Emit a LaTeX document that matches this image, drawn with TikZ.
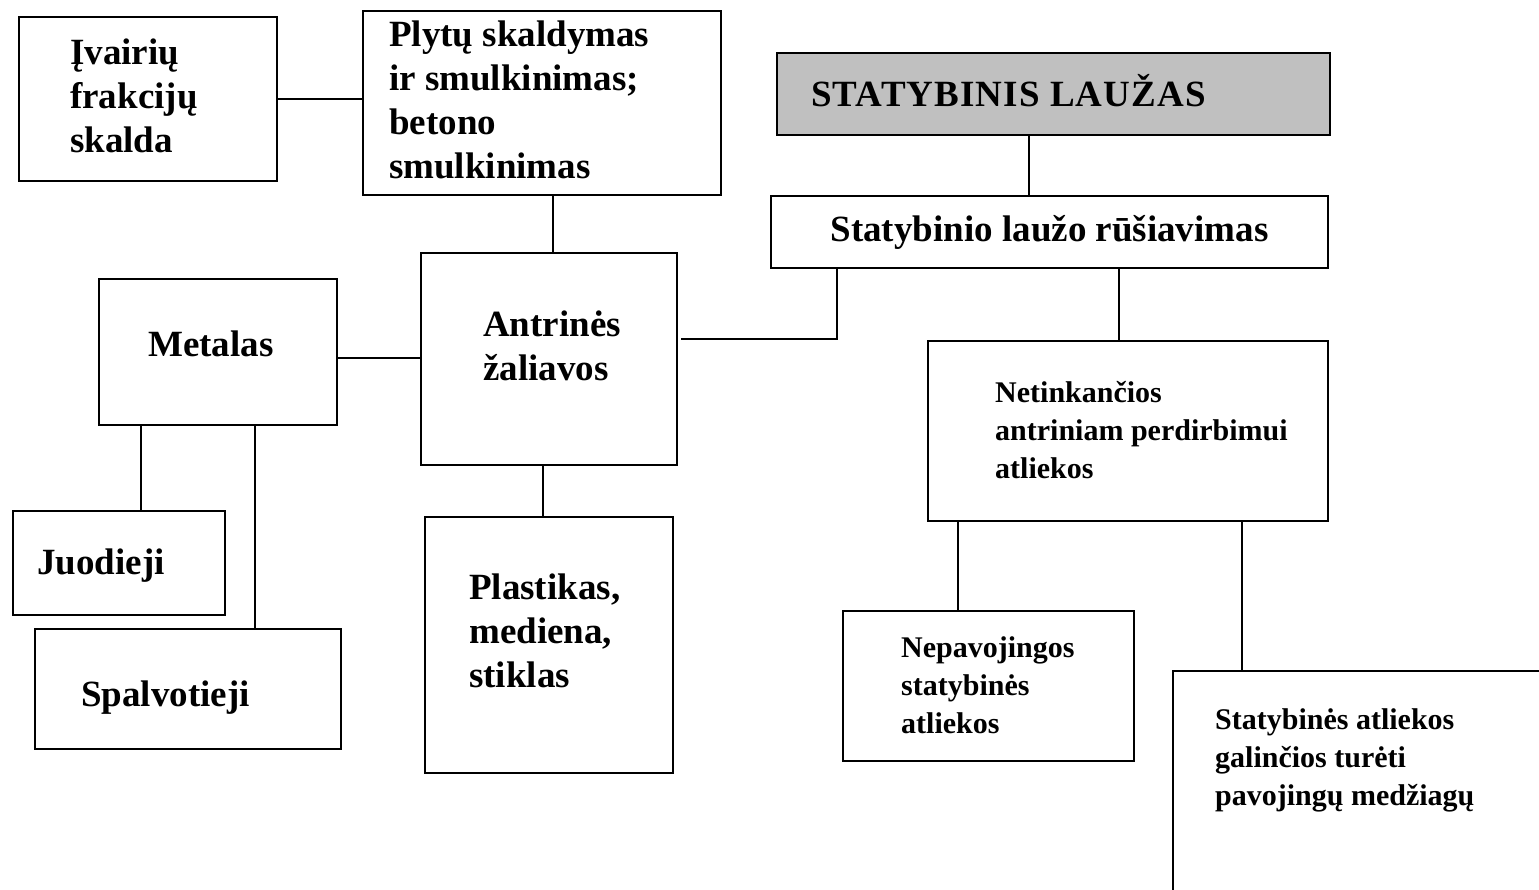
\documentclass[tikz,border=0pt]{standalone}
\usepackage{fontspec}
\setmainfont{Liberation Serif}
\usetikzlibrary{positioning}
\definecolor{lauzgray}{HTML}{C0C0C0}
\newcommand{\boxfont}{\fontsize{37}{44}\selectfont\bfseries}
\newcommand{\notefont}{\fontsize{30}{38}\selectfont\bfseries}
\newcommand{\headfont}{\fontsize{37}{44}\selectfont\bfseries\addfontfeature{LetterSpace=3}}
\tikzset{
  box/.style 2 args={draw, line width=1.6pt, minimum width=#1, minimum height=#2, inner sep=0pt},
  headbox/.style 2 args={box={#1}{#2}, fill=lauzgray},
  txt/.style={anchor=west, align=left, inner sep=0pt, font=\boxfont},
  smalltxt/.style={txt, font=\notefont},
  link/.style={line width=1.6pt}
}

\begin{document}
\begin{tikzpicture}[x=1pt, y=-1pt]
  \useasboundingbox (0,0) rectangle (1539,890);
  \fill[white] (0,0) rectangle (1539,890);
  \clip (0,0) rectangle (1539,890);

  \node[box={258pt}{164pt}] (ivair) at (148,99) {};
  \node[box={358pt}{184pt}] (plytu) at (542,103) {};
  \node[headbox={553pt}{82pt}] (lauzas) at (1053.5,94) {};
  \node[box={557pt}{72pt}, font=\boxfont] (rusiav) at (1049.5,232) {Statybinio laužo rūšiavimas};
  \node[box={256pt}{212pt}] (antr) at (549,359) {};
  \node[box={238pt}{146pt}] (metal) at (218,352) {};
  \node[box={212pt}{104pt}] (juod) at (119,563) {};
  \node[box={306pt}{120pt}] (spalv) at (188,689) {};
  \node[box={248pt}{256pt}] (plast) at (549,645) {};
  \node[box={400pt}{180pt}] (netink) at (1128,431) {};
  \node[box={291pt}{150pt}] (nepav) at (988.5,686) {};
  \node[box={527pt}{329pt}] (pavoj) at (1436.5,835.5) {};

  \node[txt] at (70,96) {Įvairių\\frakcijų\\skalda};
  \node[txt] at (389,100) {Plytų skaldymas\\ir smulkinimas;\\betono\\smulkinimas};
  \node[txt, font=\headfont] at (811,91) {STATYBINIS LAUŽAS};
  \node[txt] at (483,346) {Antrinės\\žaliavos};
  \node[txt] at (148,344) {Metalas};
  \node[txt] at (37,566) {Juodieji};
  \node[txt] at (81,698) {Spalvotieji};
  \node[txt] at (469,631) {Plastikas,\\mediena,\\stiklas};
  \node[smalltxt] at (995,430) {Netinkančios\\antriniam perdirbimui\\atliekos};
  \node[smalltxt] at (901,685) {Nepavojingos\\statybinės\\atliekos};
  \node[smalltxt] at (1215,760) {Statybinės atliekos\\galinčios turėti\\pavojingų medžiagų};

  \draw[link] (ivair.east) -- (ivair.east -| plytu.west);
  \draw[link] ([xshift=11pt]plytu.south) -- ([xshift=11pt]plytu.south |- antr.north);
  \draw[link] ([xshift=-24.5pt]lauzas.south) -- ([xshift=-24.5pt]lauzas.south |- rusiav.north);
  \draw[link] ([xshift=-212.5pt]rusiav.south) |- ([xshift=3pt, yshift=20pt]antr.east);
  \draw[link] ([xshift=69.5pt]rusiav.south) -- ([xshift=69.5pt]rusiav.south |- netink.north);
  \draw[link] ([yshift=-6pt]metal.east) -- ([yshift=-6pt]metal.east -| antr.west);
  \draw[link] ([xshift=-77pt]metal.south) -- ([xshift=-77pt]metal.south |- juod.north);
  \draw[link] ([xshift=37pt]metal.south) -- ([xshift=37pt]metal.south |- spalv.north);
  \draw[link] ([xshift=-6pt]antr.south) -- ([xshift=-6pt]antr.south |- plast.north);
  \draw[link] ([xshift=-170pt]netink.south) -- ([xshift=-170pt]netink.south |- nepav.north);
  \draw[link] ([xshift=114pt]netink.south) -- ([xshift=114pt]netink.south |- pavoj.north);
\end{tikzpicture}
\end{document}
